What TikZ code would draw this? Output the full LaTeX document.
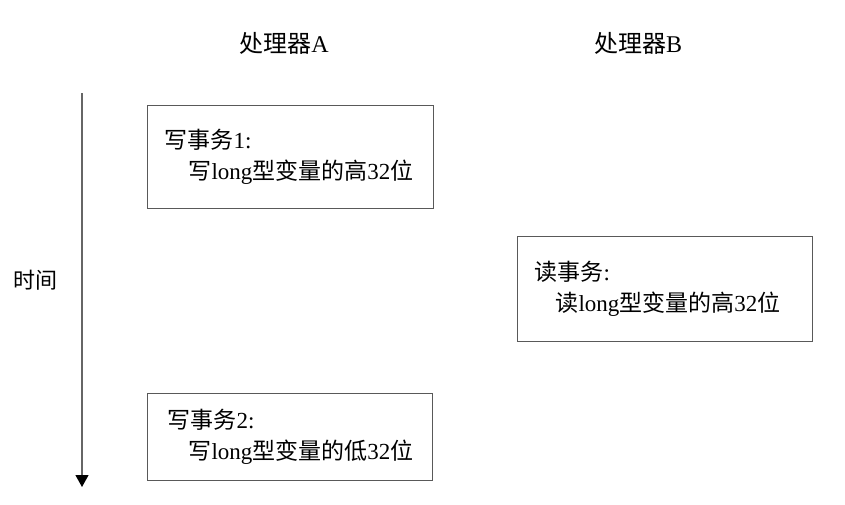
\documentclass[tikz,border=0pt]{standalone}
\usepackage{fontspec}
\setmainfont{Liberation Serif}
\newfontfamily\cjk{Noto Sans CJK SC}
\usetikzlibrary{arrows.meta}
\begin{document}
\begin{tikzpicture}[x=1pt,y=1pt,
  txt/.style={font=\fontsize{22}{31}\selectfont, inner sep=0pt},
  head/.style={font=\fontsize{24}{31}\selectfont, inner sep=0pt},
  evbox/.style={draw=black!65, line width=1pt, font=\fontsize{23}{31}\selectfont,
    align=left, inner xsep=17pt, inner ysep=0pt, anchor=north west},
  timeline/.style={draw=black!60, line width=1.2pt,
    -{Triangle[width=13pt,length=12pt,fill=black,color=black]}}]
\useasboundingbox (0,0) rectangle (845,-504);
\node[head] (pa) at (284,-43) {{\cjk 处理器}A};
\node[head] (pb) at (638,-43) {{\cjk 处理器}B};
\node[txt] (time) at (35,-280) {\cjk 时间};
\node[evbox, text width=252pt, minimum height=103pt] (w1) at (147,-105)
  {{\cjk 写事务}1:\\\hspace*{24pt}{\cjk 写}long{\cjk 型变量的高}32{\cjk 位}};
\node[evbox, text width=261pt, minimum height=105pt] (r1) at (517,-236)
  {{\cjk 读事务}:\\\hspace*{21pt}{\cjk 读}long{\cjk 型变量的高}32{\cjk 位}};
\node[evbox, inner xsep=20pt, text width=245pt, minimum height=87pt] (w2) at (147,-393)
  {{\cjk 写事务}2:\\\hspace*{21pt}{\cjk 写}long{\cjk 型变量的低}32{\cjk 位}};
\coordinate (ttop) at (82,-93);
\coordinate (tbot) at (82,-487);
\draw[timeline] (ttop) -- (tbot);
\end{tikzpicture}
\end{document}
